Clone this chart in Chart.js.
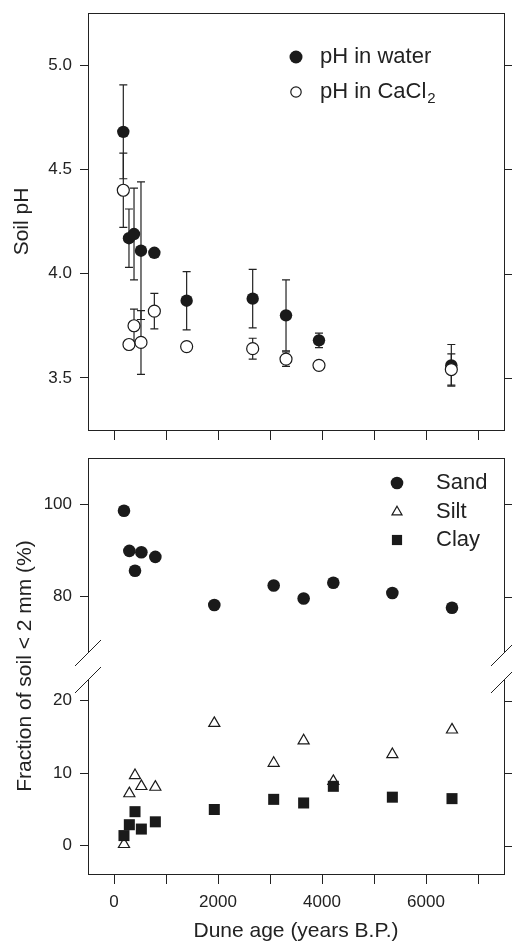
<!DOCTYPE html>
<html>
<head>
<meta charset="utf-8">
<title>Soil pH and texture vs dune age</title>
<script src="https://cdn.jsdelivr.net/npm/chart.js@4.4.1/dist/chart.umd.min.js"></script>
<style>
  body { margin: 0; background: #fff; }
  #wrap { position: relative; width: 512px; height: 942px; }
  canvas { position: absolute; left: 0; }
  #phChart { top: 0; }
  #soilChart { top: 450px; }
</style>
</head>
<body>
<div id="wrap">
  <canvas id="phChart" width="512" height="450"></canvas>
  <canvas id="soilChart" width="512" height="492"></canvas>
</div>
<script>
// pH panel
const phAge = [179, 288, 385, 519, 776, 1397, 2667, 3308, 3942, 6487];
const phWater = [4.68, 4.17, 4.19, 4.11, 4.10, 3.87, 3.88, 3.80, 3.68, 3.56];
const phWaterErr = [0.225, 0.14, 0.22, 0.33, 0, 0.14, 0.14, 0.17, 0.035, 0.1];
const phCaCl2 = [4.40, 3.66, 3.75, 3.67, 3.82, 3.65, 3.64, 3.59, 3.56, 3.54];
const phCaCl2Err = [0.178, 0, 0.08, 0.153, 0.085, 0.02, 0.05, 0.035, 0.02, 0.075];

// texture panel
const soilAge = [192, 295, 404, 526, 795, 1929, 3071, 3647, 4218, 5353, 6500];
const sand = [98.6, 89.9, 85.6, 89.6, 88.6, 78.2, 82.4, 79.6, 83.0, 80.8, 77.6];
const silt = [0.2, 7.2, 9.7, 8.2, 8.1, 16.9, 11.4, 14.5, 8.9, 12.6, 16.0];
const clay = [1.4, 2.9, 4.7, 2.3, 3.3, 5.0, 6.4, 5.9, 8.2, 6.7, 6.5];

// ticks
const ageTicks = [0, 1000, 2000, 3000, 4000, 5000, 6000, 7000];
const ageLabelled = [0, 2000, 4000, 6000];
const phTicks = [3.5, 4.0, 4.5, 5.0];
const fracHighTicks = [80, 100];
const fracLowTicks = [0, 10, 20];

const ink = '#222';
const dot = '#1a1a1a';
const family = "'Liberation Sans', Arial, Helvetica, sans-serif";
const tickFont = { family: family, size: 17 };
const titleFont = { family: family, size: 21 };

const setTicks = (list) => (scale) => { scale.ticks = list.map(v => ({ value: v })); };

// box round the plot area plus the mirrored ticks on the right side
const framePlugin = {
  id: 'frame',
  afterDraw(chart) {
    const { ctx, chartArea: a } = chart;
    ctx.save();
    ctx.strokeStyle = ink;
    ctx.lineWidth = 1;
    ctx.strokeRect(Math.round(a.left) + 0.5, Math.round(a.top) + 0.5,
      Math.round(a.right - a.left), Math.round(a.bottom - a.top));
    Object.values(chart.scales).filter(s => s.axis === 'y').forEach(s => {
      s.ticks.forEach(t => {
        const y = Math.round(s.getPixelForValue(t.value)) + 0.5;
        ctx.beginPath();
        ctx.moveTo(a.right, y);
        ctx.lineTo(a.right + 8, y);
        ctx.stroke();
      });
    });
    ctx.restore();
  }
};

const errorBarPlugin = {
  id: 'errorBars',
  beforeDatasetsDraw(chart) {
    const { ctx, scales: { x, y } } = chart;
    ctx.save();
    ctx.strokeStyle = ink;
    ctx.lineWidth = 1.2;
    [[phWater, phWaterErr], [phCaCl2, phCaCl2Err]].forEach(([vals, errs]) => {
      phAge.forEach((age, i) => {
        if (!errs[i]) return;
        const px = x.getPixelForValue(age);
        const hi = y.getPixelForValue(vals[i] + errs[i]);
        const lo = y.getPixelForValue(vals[i] - errs[i]);
        ctx.beginPath();
        ctx.moveTo(px, hi); ctx.lineTo(px, lo);
        ctx.moveTo(px - 4, hi); ctx.lineTo(px + 4, hi);
        ctx.moveTo(px - 4, lo); ctx.lineTo(px + 4, lo);
        ctx.stroke();
      });
    });
    ctx.restore();
  }
};

function legendRow(ctx, style, x, y, text, sub) {
  ctx.save();
  ctx.fillStyle = style.fill;
  ctx.strokeStyle = dot;
  ctx.lineWidth = style.borderWidth;
  Chart.helpers.drawPoint(ctx, { pointStyle: style.pointStyle, radius: style.radius, rotation: 0, borderWidth: style.borderWidth }, x, y);
  ctx.fillStyle = ink;
  ctx.font = '22px ' + family;
  ctx.textBaseline = 'middle';
  const tx = x + style.gap;
  ctx.fillText(text, tx, y);
  if (sub) {
    const w = ctx.measureText(text).width;
    ctx.font = '15px ' + family;
    ctx.fillText(sub, tx + w + 1, y + 7);
  }
  ctx.restore();
}

const phLegend = {
  id: 'phLegend',
  afterDraw(chart) {
    const { ctx, chartArea: a } = chart;
    legendRow(ctx, { fill: dot, pointStyle: 'circle', radius: 6.5, borderWidth: 0, gap: 24 }, a.left + 208, a.top + 44, 'pH in water');
    legendRow(ctx, { fill: '#fff', pointStyle: 'circle', radius: 5.2, borderWidth: 1.2, gap: 24 }, a.left + 208, a.top + 79, 'pH in CaCl', '2');
  }
};

const soilLegend = {
  id: 'soilLegend',
  afterDraw(chart) {
    const { ctx, chartArea: a } = chart;
    const x = a.left + 309;
    legendRow(ctx, { fill: dot, pointStyle: 'circle', radius: 6.3, borderWidth: 0, gap: 39 }, x, a.top + 25, 'Sand');
    legendRow(ctx, { fill: '#fff', pointStyle: 'triangle', radius: 5.8, borderWidth: 1.2, gap: 39 }, x, a.top + 54, 'Silt');
    legendRow(ctx, { fill: dot, pointStyle: 'rect', radius: 7.2, borderWidth: 0, gap: 39 }, x, a.top + 82, 'Clay');
  }
};

// broken axis marks and the shared y title of the lower panel
const breakPlugin = {
  id: 'axisBreak',
  afterDraw(chart) {
    const { ctx, chartArea: a, scales } = chart;
    const yb = Math.min(scales.yHigh.bottom, scales.yLow.bottom);
    ctx.save();
    [a.left, a.right].forEach(fx => {
      ctx.fillStyle = '#fff';
      ctx.fillRect(fx - 2, yb - 13, 4, 27);
      ctx.strokeStyle = ink;
      ctx.lineWidth = 1;
      [yb - 13, yb + 14].forEach(yc => {
        ctx.beginPath();
        ctx.moveTo(fx - 13, yc + 13);
        ctx.lineTo(fx + 13, yc - 13);
        ctx.stroke();
      });
    });
    ctx.translate(25, (a.top + a.bottom) / 2);
    ctx.rotate(-Math.PI / 2);
    ctx.fillStyle = ink;
    ctx.font = '21px ' + family;
    ctx.textAlign = 'center';
    ctx.textBaseline = 'middle';
    ctx.fillText('Fraction of soil < 2 mm (%)', 0, 0);
    ctx.restore();
  }
};

const xAxis = (labelled, height, title) => ({
  type: 'linear',
  min: -500,
  max: 7500,
  afterBuildTicks: setTicks(ageTicks),
  afterFit: (s) => { s.height = height; s.paddingLeft = 0; s.paddingRight = 0; },
  ticks: {
    autoSkip: false,
    maxRotation: 0,
    color: ink,
    font: tickFont,
    padding: 8,
    callback: (v) => (labelled.includes(v) ? String(v) : '')
  },
  grid: { drawOnChartArea: false, tickLength: 10, color: ink },
  border: { display: false },
  title: title ? { display: true, text: title, color: ink, font: titleFont, padding: { top: 0, bottom: -2 } } : { display: false }
});

const yAxis = (extra) => Object.assign({
  type: 'linear',
  position: 'left',
  // fixed gutter; no extra room for half tick labels at the ends
  afterFit: (s) => { s.width = 88; s.paddingTop = 0; s.paddingBottom = 0; },
  ticks: { color: ink, font: tickFont, padding: 8 },
  grid: { drawOnChartArea: false, tickLength: 8, color: ink },
  border: { display: false }
}, extra);

const common = {
  responsive: false,
  animation: false,
  events: [],
  plugins: { legend: { display: false }, tooltip: { enabled: false } }
};

new Chart(document.getElementById('phChart'), {
  type: 'scatter',
  data: {
    datasets: [
      {
        label: 'pH in water',
        data: phAge.map((a, i) => ({ x: a, y: phWater[i] })),
        pointStyle: 'circle', pointRadius: 6.2,
        backgroundColor: dot, borderColor: dot, borderWidth: 0,
        order: 2
      },
      {
        label: 'pH in CaCl2',
        data: phAge.map((a, i) => ({ x: a, y: phCaCl2[i] })),
        pointStyle: 'circle', pointRadius: 6,
        backgroundColor: '#fff', borderColor: dot, borderWidth: 1.2,
        order: 1
      }
    ]
  },
  options: Object.assign({}, common, {
    layout: { padding: { top: 13, right: 8, left: 0, bottom: 0 } },
    scales: {
      x: xAxis([], 20, null),
      y: yAxis({
        min: 3.25, max: 5.25,
        afterBuildTicks: setTicks(phTicks),
        ticks: { color: ink, font: tickFont, padding: 8, callback: (v) => v.toFixed(1) },
        title: { display: true, text: 'Soil pH', color: ink, font: titleFont, padding: { top: 10, bottom: 0 } }
      })
    }
  }),
  plugins: [errorBarPlugin, framePlugin, phLegend]
});

new Chart(document.getElementById('soilChart'), {
  type: 'scatter',
  data: {
    datasets: [
      {
        label: 'Clay',
        data: soilAge.map((a, i) => ({ x: a, y: clay[i] })),
        yAxisID: 'yLow',
        pointStyle: 'rect', pointRadius: 7.8,
        backgroundColor: dot, borderColor: dot, borderWidth: 0
      },
      {
        label: 'Silt',
        data: soilAge.map((a, i) => ({ x: a, y: silt[i] })),
        yAxisID: 'yLow',
        pointStyle: 'triangle', pointRadius: 6.4,
        backgroundColor: '#fff', borderColor: dot, borderWidth: 1.2
      },
      {
        label: 'Sand',
        data: soilAge.map((a, i) => ({ x: a, y: sand[i] })),
        yAxisID: 'yHigh',
        pointStyle: 'circle', pointRadius: 6.3,
        backgroundColor: dot, borderColor: dot, borderWidth: 0
      }
    ]
  },
  options: Object.assign({}, common, {
    layout: { padding: { top: 8, right: 8, left: 0, bottom: 0 } },
    scales: {
      x: xAxis(ageLabelled, 68, 'Dune age (years B.P.)'),
      yLow: yAxis({ min: -3.9, max: 24.8, stack: 'frac', stackWeight: 1, weight: 0, afterBuildTicks: setTicks(fracLowTicks) }),
      yHigh: yAxis({ min: 65, max: 110, stack: 'frac', stackWeight: 1, weight: 1, afterBuildTicks: setTicks(fracHighTicks) })
    }
  }),
  plugins: [framePlugin, breakPlugin, soilLegend]
});
</script>
</body>
</html>
